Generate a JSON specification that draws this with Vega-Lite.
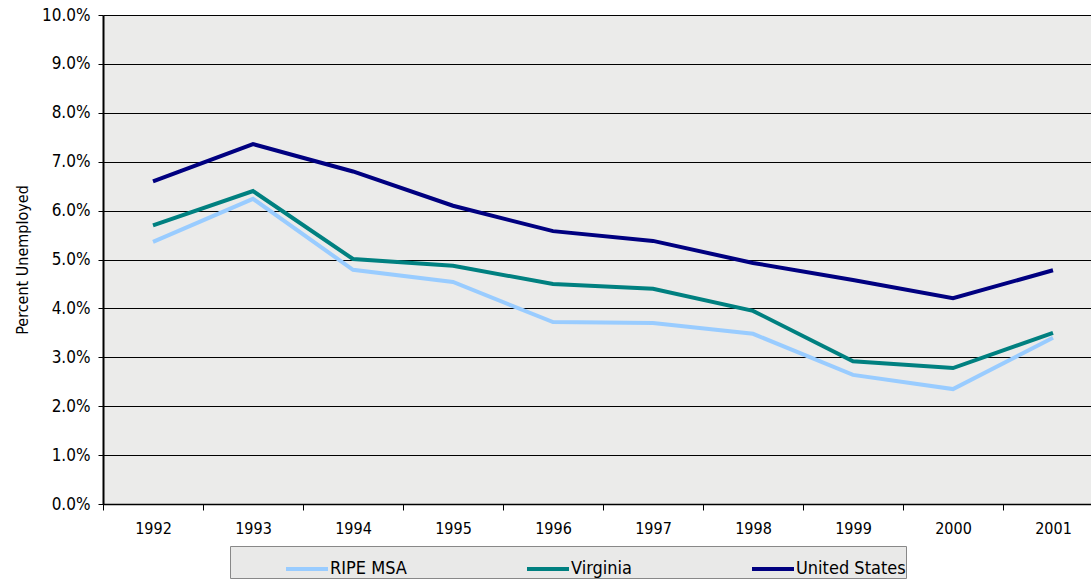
{
  "$schema": "https://vega.github.io/schema/vega-lite/v6.json",
  "autosize": {"type": "none"},
  "width": 1000,
  "height": 489,
  "padding": {"left": 103, "top": 15, "right": 0, "bottom": 75},
  "background": "white",
  "config": {
    "font": "DejaVu Sans Condensed",
    "view": {"fill": "#ebebea", "stroke": null}
  },
  "data": {
    "values": [
      {"year": "1992", "series": "RIPE MSA", "rate": 0.0536},
      {"year": "1993", "series": "RIPE MSA", "rate": 0.0624},
      {"year": "1994", "series": "RIPE MSA", "rate": 0.0479},
      {"year": "1995", "series": "RIPE MSA", "rate": 0.0454},
      {"year": "1996", "series": "RIPE MSA", "rate": 0.0372},
      {"year": "1997", "series": "RIPE MSA", "rate": 0.0370},
      {"year": "1998", "series": "RIPE MSA", "rate": 0.0348},
      {"year": "1999", "series": "RIPE MSA", "rate": 0.0264},
      {"year": "2000", "series": "RIPE MSA", "rate": 0.0235},
      {"year": "2001", "series": "RIPE MSA", "rate": 0.0340},
      {"year": "1992", "series": "Virginia", "rate": 0.0570},
      {"year": "1993", "series": "Virginia", "rate": 0.0640},
      {"year": "1994", "series": "Virginia", "rate": 0.0501},
      {"year": "1995", "series": "Virginia", "rate": 0.0487},
      {"year": "1996", "series": "Virginia", "rate": 0.0450},
      {"year": "1997", "series": "Virginia", "rate": 0.0440},
      {"year": "1998", "series": "Virginia", "rate": 0.0395},
      {"year": "1999", "series": "Virginia", "rate": 0.0292},
      {"year": "2000", "series": "Virginia", "rate": 0.0278},
      {"year": "2001", "series": "Virginia", "rate": 0.0350},
      {"year": "1992", "series": "United States", "rate": 0.0660},
      {"year": "1993", "series": "United States", "rate": 0.0736},
      {"year": "1994", "series": "United States", "rate": 0.0680},
      {"year": "1995", "series": "United States", "rate": 0.0610},
      {"year": "1996", "series": "United States", "rate": 0.0558},
      {"year": "1997", "series": "United States", "rate": 0.0538},
      {"year": "1998", "series": "United States", "rate": 0.0493},
      {"year": "1999", "series": "United States", "rate": 0.0458},
      {"year": "2000", "series": "United States", "rate": 0.0421},
      {"year": "2001", "series": "United States", "rate": 0.0478}
    ]
  },
  "mark": {"type": "line", "strokeWidth": 4, "strokeJoin": "miter"},
  "encoding": {
    "x": {
      "field": "year",
      "type": "ordinal",
      "bandPosition": 0.5,
      "scale": {"type": "band", "paddingInner": 0, "paddingOuter": 0},
      "axis": {
        "title": null,
        "labelAngle": 0,
        "labelFontSize": 16,
        "labelColor": "black",
        "labelPadding": 10,
        "tickBand": "extent",
        "tickSize": 6,
        "tickColor": "black",
        "domainColor": "black",
        "domainWidth": 1.5,
        "grid": false
      }
    },
    "y": {
      "field": "rate",
      "type": "quantitative",
      "scale": {"domain": [0, 0.1], "nice": false},
      "axis": {
        "title": "Percent Unemployed",
        "titleFontSize": 16,
        "titleFontWeight": "normal",
        "titleColor": "black",
        "titlePadding": 11,
        "format": ".1%",
        "values": [0, 0.01, 0.02, 0.03, 0.04, 0.05, 0.06, 0.07, 0.08, 0.09, 0.1],
        "labelFontSize": 17,
        "labelColor": "black",
        "labelPadding": 8,
        "tickSize": 5,
        "tickColor": "black",
        "domainColor": "black",
        "domainWidth": 2,
        "grid": true,
        "gridColor": "black",
        "gridOpacity": 1,
        "gridWidth": 1
      }
    },
    "color": {
      "field": "series",
      "type": "nominal",
      "scale": {
        "domain": ["RIPE MSA", "Virginia", "United States"],
        "range": ["#99ccff", "#008080", "#000080"]
      },
      "legend": {
        "title": null,
        "orient": "none",
        "legendX": 127,
        "legendY": 531,
        "direction": "horizontal",
        "symbolType": "stroke",
        "symbolSize": 1764,
        "symbolStrokeWidth": 4,
        "symbolOffset": 54,
        "labelOffset": 0,
        "columnPadding": 64,
        "labelFontSize": 18,
        "labelColor": "black",
        "padding": 0,
        "fillColor": "#e9e9e8",
        "strokeColor": "#888888"
      }
    }
  }
}
